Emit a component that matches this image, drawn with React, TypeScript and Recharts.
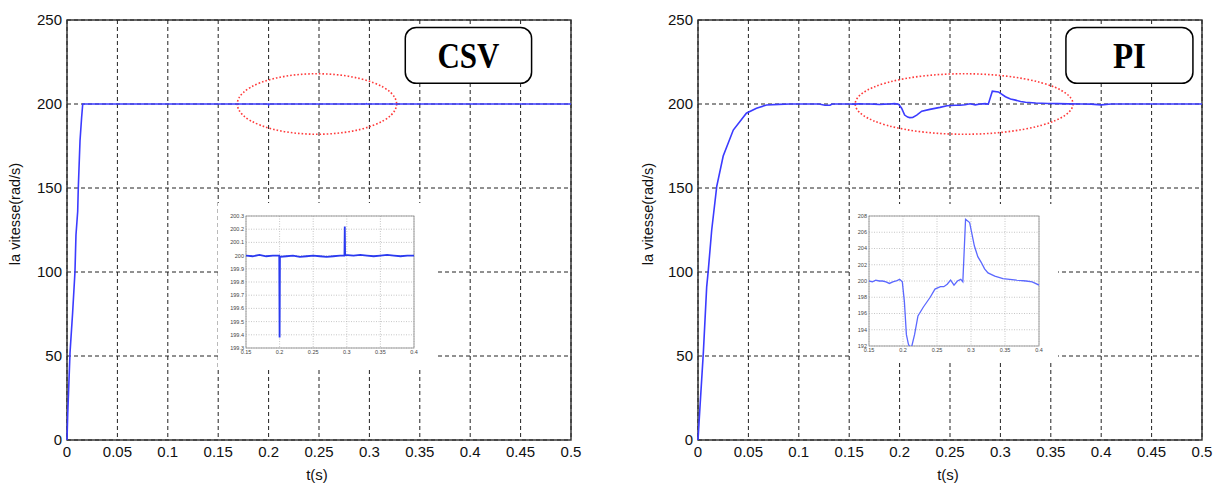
import React from 'react';
import { LineChart, Line, XAxis, YAxis, CartesianGrid, ReferenceArea } from 'recharts';

// Axis ticks
const T_TICKS = [0, 0.05, 0.1, 0.15, 0.2, 0.25, 0.3, 0.35, 0.4, 0.45, 0.5];
const W_TICKS = [0, 50, 100, 150, 200, 250];
const ZOOM_T_TICKS = [0.15, 0.2, 0.25, 0.3, 0.35, 0.4];
const CSV_ZOOM_W_TICKS = [199.3, 199.4, 199.5, 199.6, 199.7, 199.8, 199.9, 200, 200.1, 200.2, 200.3];
const PI_ZOOM_W_TICKS = [192, 194, 196, 198, 200, 202, 204, 206, 208];

// CSV controller: speed (rad/s) versus time (s)
const csvTime = [
  0, 0.0007, 0.003, 0.0055, 0.0079, 0.0089, 0.0106, 0.0112, 0.0129, 0.0145, 0.0156,
  0.05, 0.1, 0.15, 0.16, 0.17, 0.18, 0.19, 0.1995, 0.2, 0.2005, 0.21, 0.22, 0.23, 0.24,
  0.25, 0.26, 0.27, 0.28, 0.29, 0.2965, 0.297, 0.2975, 0.31, 0.32, 0.33, 0.34, 0.35,
  0.36, 0.37, 0.38, 0.39, 0.4, 0.45, 0.5,
];
const csvSpeed = [
  0, 15, 52, 75, 100, 122, 136, 150, 178, 192, 200,
  200, 200, 200, 199.995, 200.005, 199.995, 200, 200, 199.38, 199.99, 199.995, 200, 199.99, 199.995,
  200, 199.995, 199.99, 199.995, 200, 200, 200.22, 200.005, 200, 200.005, 200, 199.995, 200,
  200.005, 200, 199.995, 200, 200, 200, 200,
];

// PI controller: speed (rad/s) versus time (s)
const piTime = [
  0, 0.002, 0.0053, 0.0086, 0.0102, 0.0136, 0.0186, 0.025, 0.035, 0.048, 0.058, 0.068,
  0.08, 0.091, 0.12, 0.126, 0.131, 0.133,
  0.15, 0.155, 0.16, 0.165, 0.17, 0.175, 0.18, 0.185, 0.19, 0.195, 0.199, 0.202, 0.205,
  0.208, 0.21, 0.213, 0.217, 0.222, 0.23, 0.24, 0.247, 0.255, 0.26, 0.265, 0.27, 0.275,
  0.28, 0.285, 0.288, 0.292, 0.298, 0.305, 0.31, 0.315, 0.32, 0.325, 0.335, 0.347, 0.357,
  0.367, 0.381, 0.39, 0.4, 0.41, 0.45, 0.5,
];
const piSpeed = [
  0, 20, 52, 91, 101, 125, 151, 169, 184.5, 194.5, 197.5, 199.4,
  199.8, 200, 200, 199.3, 199.3, 200,
  200, 199.9, 200.1, 200, 200, 199.9, 199.7, 199.9, 200, 200.2, 199.9, 197.5, 193.4,
  192.2, 191.9, 192, 193.4, 195.7, 196.8, 198, 199, 199.3, 199.3, 199.6, 200.1, 199.5,
  200, 200.2, 199.9, 207.6, 207.2, 204.3, 203, 202.3, 201.5, 201, 200.6, 200.3, 200.2,
  200.1, 200, 199.9, 199.5, 200, 200, 200,
];

const csvRows = csvTime.map((t, i) => ({ t, w: csvSpeed[i] }));
const piRows = piTime.map((t, i) => ({ t, w: piSpeed[i] }));
const inWindow = (r: { t: number }) => r.t >= 0.15 && r.t <= 0.4;

const SANS = '"Liberation Sans", Arial, sans-serif';
const SERIF = '"Liberation Serif", "Times New Roman", serif';
const BLUE = '#3b3bff';

const fmt = (v: number) => String(v);

function yLabelContent(dx: number) {
  return (props: any) => {
    const vb = props.viewBox || { x: 0, y: 0, width: 0, height: 0 };
    const cx = vb.x + dx;
    const cy = vb.y + vb.height / 2 - 16;
    return (
      <text
        x={cx}
        y={cy}
        transform={`rotate(-90, ${cx}, ${cy})`}
        textAnchor="middle"
        dominantBaseline="central"
        fontFamily={SANS}
        fontSize={14.5}
        fill="#111"
      >
        la vitesse(rad/s)
      </text>
    );
  };
}

const xLabelContent = (props: any) => {
  const vb = props.viewBox || { x: 0, y: 0, width: 0, height: 0 };
  return (
    <text x={vb.x + vb.width / 2 - 2} y={474} textAnchor="middle" dominantBaseline="central"
      fontFamily={SANS} fontSize={15} fill="#111">
      t(s)
    </text>
  );
};

function tagShape(text: string, textWidth: number) {
  return (p: any) => (
    <g>
      <rect x={p.x} y={p.y} width={p.width} height={p.height} rx={11} ry={11}
        fill="#fff" stroke="#000" strokeWidth={1.5} />
      <text x={p.x + p.width / 2} y={p.y + p.height / 2 + 13} textAnchor="middle"
        fontFamily={SERIF} fontWeight="bold" fontSize={35} fill="#000"
        textLength={textWidth} lengthAdjust="spacingAndGlyphs">
        {text}
      </text>
    </g>
  );
}

const ellipseShape = (p: any) => (
  <ellipse cx={p.x + p.width / 2} cy={p.y + p.height / 2} rx={p.width / 2} ry={p.height / 2}
    fill="none" stroke="#ff3b3b" strokeWidth={1.6} strokeDasharray="1.6 2" />
);

const frameShape = (p: any) => (
  <rect x={p.x} y={p.y} width={p.width} height={p.height} fill="none" stroke="#2a2a2a" strokeWidth={1.4} />
);

type PanelProps = {
  left: number;
  width: number;
  marginRight: number;
  data: { t: number; w: number }[];
  tag: string;
  tagWidth: number;
  tagT: [number, number];
  ringT: [number, number];
  yLabelDx: number;
};

function MainPanel(p: PanelProps) {
  return (
    <div style={{ position: 'absolute', left: p.left, top: 0 }}>
      <LineChart width={p.width} height={486} data={p.data}
        margin={{ top: 20, right: p.marginRight, bottom: 0, left: 0 }}>
        <CartesianGrid stroke="#222" strokeDasharray="4 3" strokeWidth={1} />
        <XAxis dataKey="t" type="number" domain={[0, 0.5]} ticks={T_TICKS} interval={0}
          tickFormatter={fmt} height={46} tickSize={0} tickMargin={6}
          axisLine={false} tickLine={false}
          tick={{ fontFamily: SANS, fontSize: 15, fill: '#111' }}
          label={{ content: xLabelContent }} />
        <YAxis type="number" domain={[0, 250]} ticks={W_TICKS} interval={0} width={67}
          tickSize={0} tickMargin={5} axisLine={false} tickLine={false}
          tick={{ fontFamily: SANS, fontSize: 15, fill: '#111' }}
          label={{ content: yLabelContent(p.yLabelDx) }} />
        <ReferenceArea x1={p.ringT[0]} x2={p.ringT[1]} y1={182} y2={218} shape={ellipseShape} />
        <Line dataKey="w" type="linear" stroke={BLUE} strokeWidth={1.6} dot={false}
          isAnimationActive={false} />
        <ReferenceArea x1={p.tagT[0]} x2={p.tagT[1]} y1={212.3} y2={245.6} shape={tagShape(p.tag, p.tagWidth)} />
        <ReferenceArea x1={0} x2={0.5} y1={0} y2={250} shape={frameShape} />
      </LineChart>
    </div>
  );
}

type ZoomProps = {
  left: number;
  top: number;
  width: number;
  height: number;
  yAxisWidth: number;
  marginTop: number;
  marginRight: number;
  xAxisHeight: number;
  data: { t: number; w: number }[];
  domain: [number, number];
  ticks: number[];
  lineColor: string;
  lineWidth: number;
};

function ZoomPanel(z: ZoomProps) {
  const tickStyle = { fontFamily: SANS, fontSize: 5.5, fill: '#444' };
  return (
    <div style={{ position: 'absolute', left: z.left, top: z.top, background: '#fff' }}>
      <LineChart width={z.width} height={z.height} data={z.data}
        margin={{ top: z.marginTop, right: z.marginRight, bottom: 0, left: 0 }}>
        <CartesianGrid stroke="#b8b8b8" strokeDasharray="1 1.5" strokeWidth={0.8} />
        <XAxis dataKey="t" type="number" domain={[0.15, 0.4]} ticks={ZOOM_T_TICKS} interval={0}
          tickFormatter={fmt} height={z.xAxisHeight} tickSize={0} tickMargin={2}
          axisLine={false} tickLine={false} tick={tickStyle} allowDataOverflow />
        <YAxis type="number" domain={z.domain} ticks={z.ticks} interval={0} width={z.yAxisWidth}
          tickFormatter={fmt} tickSize={0} tickMargin={2} axisLine={false} tickLine={false}
          tick={tickStyle} allowDataOverflow />
        <Line dataKey="w" type="linear" stroke={z.lineColor} strokeWidth={z.lineWidth} dot={false}
          isAnimationActive={false} />
        <ReferenceArea x1={0.15} x2={0.4} y1={z.domain[0]} y2={z.domain[1]}
          shape={(p: any) => (
            <rect x={p.x} y={p.y} width={p.width} height={p.height} fill="none" stroke="#888" strokeWidth={0.8} />
          )} />
      </LineChart>
    </div>
  );
}

export default function App() {
  return (
    <div style={{ position: 'fixed', left: 0, top: 0, width: 1218, height: 486, overflow: 'hidden', background: '#fff' }}>
      <MainPanel left={0} width={600} marginRight={29} data={csvRows} tag="CSV" tagWidth={62}
        tagT={[0.3356, 0.4609]} ringT={[0.169, 0.327]} yLabelDx={15} />
      <MainPanel left={631} width={587} marginRight={16} data={piRows} tag="PI" tagWidth={33}
        tagT={[0.365, 0.491]} ringT={[0.156, 0.372]} yLabelDx={17} />
      <ZoomPanel left={218} top={203} width={218} height={167} yAxisWidth={28} marginTop={13}
        marginRight={22} xAxisHeight={22} data={csvRows.filter(inWindow)}
        domain={[199.3, 200.3]} ticks={CSV_ZOOM_W_TICKS} lineColor="#2a3af0" lineWidth={1.8} />
      <ZoomPanel left={851} top={204} width={207} height={158} yAxisWidth={18} marginTop={12}
        marginRight={19} xAxisHeight={16} data={piRows.filter(inWindow)}
        domain={[192, 208]} ticks={PI_ZOOM_W_TICKS} lineColor="#5b68ff" lineWidth={1.3} />
    </div>
  );
}
